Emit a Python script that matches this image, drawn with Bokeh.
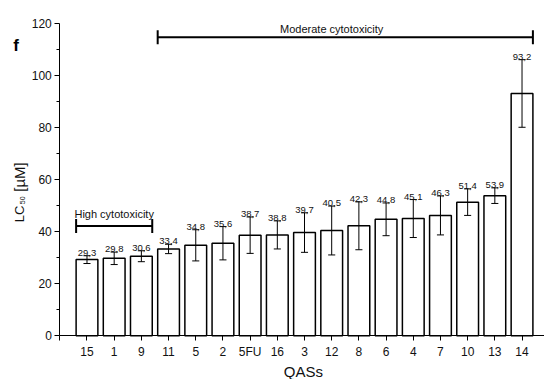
from bokeh.plotting import figure
from bokeh.models import FixedTicker, Label, ColumnDataSource, Range1d
from bokeh.core.properties import value
from bokeh.embed import file_html
from bokeh.resources import INLINE

# ---- data ----
categories = ["15", "1", "9", "11", "5", "2", "5FU", "16", "3", "12",
              "8", "6", "4", "7", "10", "13", "14"]
lc50 = [29.3, 29.8, 30.6, 33.4, 34.8, 35.6, 38.7, 38.8, 39.7, 40.5,
        42.3, 44.8, 45.1, 46.3, 51.4, 53.9, 93.2]
errors = [1.5, 2.4, 2.1, 1.8, 6.0, 6.4, 7.0, 5.4, 7.6, 9.4,
          9.2, 6.3, 7.3, 7.5, 5.1, 3.0, 13.0]
y_ticks = [0, 20, 40, 60, 80, 100, 120]
y_minor = [10, 30, 50, 70, 90, 110]
group_names = ["High cytotoxicity", "Moderate cytotoxicity"]
group_first = ["15", "11"]
group_last = ["9", "14"]
group_level = [42.2, 114.8]

FONT = "Liberation Sans"

pos = list(range(1, len(categories) + 1))
labels = [f"{v:.1f}".replace(".", ",") for v in lc50]
upper = [v + e for v, e in zip(lc50, errors)]
lower = [v - e for v, e in zip(lc50, errors)]

src = ColumnDataSource(dict(x=pos, top=lc50, up=upper, lo=lower, lab=labels))

# frame covers the whole canvas; axes are pinned at x=0 / y=0
W, H = 544, 379
sx, sy = 27.19, 2.6
x0px, y0px = 59.3, 335.3
x_start = -x0px / sx
y_start = -(H - y0px) / sy
p = figure(width=W, height=H,
           x_range=Range1d(x_start, x_start + W / sx),
           y_range=Range1d(y_start, y_start + H / sy),
           output_backend="svg", toolbar_location=None,
           min_border_left=0, min_border_right=0, min_border_top=0, min_border_bottom=0)
p.outline_line_color = None
p.grid.visible = False
p.background_fill_color = "white"

# bars
p.vbar(x="x", top="top", bottom=0, width=0.8, source=src,
       fill_color="white", line_color="black", line_width=1.5)

# error bars
cap = 0.13
p.segment(x0="x", y0="lo", x1="x", y1="up", source=src, line_color="black", line_width=1)
xs = src.data["x"]
p.segment(x0=[x - cap for x in xs], y0=upper, x1=[x + cap for x in xs], y1=upper,
          line_color="black", line_width=1)
p.segment(x0=[x - cap for x in xs], y0=lower, x1=[x + cap for x in xs], y1=lower,
          line_color="black", line_width=1)

# value labels
p.text(x="x", y="up", text="lab", source=src, text_align="center",
       text_baseline="alphabetic", y_offset=-3, text_font=value(FONT),
       text_font_size="9.5px", text_color="#111111")

# brackets
tick_h = 2.7
for name, a, b, lvl in zip(group_names, group_first, group_last, group_level):
    bx0 = categories.index(a) + 1 - 0.4
    bx1 = categories.index(b) + 1 + 0.4
    p.segment(x0=[bx0, bx0, bx1], y0=[lvl, lvl - tick_h, lvl - tick_h],
              x1=[bx1, bx0, bx1], y1=[lvl, lvl + tick_h, lvl + tick_h],
              line_color="black", line_width=2)

p.text(x=[2.0], y=[46.9], text=[group_names[0]], text_align="center",
       text_baseline="alphabetic", text_font=value(FONT), text_font_size="11px",
       text_color="#111111")
p.text(x=[10.0], y=[118.1], text=[group_names[1]], text_align="center",
       text_baseline="alphabetic", text_font=value(FONT), text_font_size="11px",
       text_color="#111111")

# axes
xa = p.xaxis[0]
xa.fixed_location = 0
xa.bounds = (0, x_start + W / sx)
xa.ticker = FixedTicker(ticks=[0] + pos, minor_ticks=[])
xa.major_label_overrides = {0: ""} | {i: c for i, c in zip(pos, categories)}
xa.major_tick_out = 5
xa.major_tick_in = 0
xa.minor_tick_out = 0
xa.axis_line_color = "black"
xa.major_tick_line_color = "black"
xa.major_label_text_font = FONT
xa.major_label_text_font_size = "12px"
xa.major_label_text_color = "#111111"
xa.major_label_standoff = 4

ya = p.yaxis[0]
ya.fixed_location = 0
ya.ticker = FixedTicker(ticks=y_ticks, minor_ticks=y_minor)
ya.bounds = (0, 120)
ya.major_tick_out = 5
ya.major_tick_in = 0
ya.minor_tick_out = 3
ya.minor_tick_in = 0
ya.axis_line_color = "black"
ya.major_tick_line_color = "black"
ya.minor_tick_line_color = "black"
ya.major_label_text_font = FONT
ya.major_label_text_font_size = "12px"
ya.major_label_text_color = "#111111"
ya.major_label_standoff = 3

# axis titles and panel letter
def lab(**kw):
    base = dict(text_font=FONT, text_color="#111111", text_baseline="alphabetic")
    base.update(kw)
    p.add_layout(Label(**base))

lab(x=8.96, y=-13.6, text="QASs", text_align="center", text_baseline="middle",
    text_font_size="15px")
lab(x=-1.47, y=43.7, text="LC", angle=1.5708, text_align="left", text_font_size="13px")
lab(x=-1.38, y=50.6, text="50", angle=1.5708, text_align="left", text_font_size="7px")
lab(x=-1.47, y=55.4, text="[µM]", angle=1.5708, text_align="left", text_font_size="15px")
lab(x=-1.61, y=111.65, text="f", text_align="center", text_font_size="17px",
    text_font_style="bold", text_color="black")

open("out.html", "w").write(file_html(p, INLINE))
